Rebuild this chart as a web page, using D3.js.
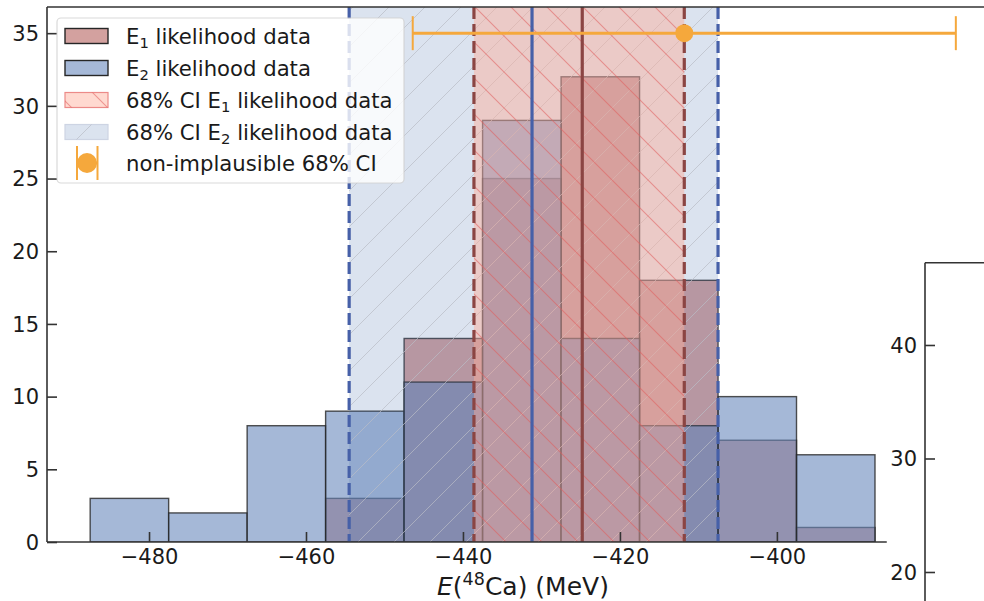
<!DOCTYPE html>
<html>
<head>
<meta charset="utf-8">
<script src="https://cdn.jsdelivr.net/npm/d3@7"></script>
<style>
  html, body { margin: 0; padding: 0; background: #fff; }
  svg { display: block; font-family: "DejaVu Sans", sans-serif; }
</style>
</head>
<body>
<svg id="chart" width="984" height="601"></svg>
<script>
// Histogram bins (MeV) and counts for the two likelihood samples
const binEdges = [-487.5, -477.5, -467.5, -457.5, -447.5, -437.5, -427.5, -417.5, -407.5, -397.5, -387.5];
const e1Counts = [0, 0, 0, 3, 14, 25, 32, 18, 7, 1];
const e2Counts = [3, 2, 8, 9, 11, 29, 14, 8, 10, 6];

// 68% credible intervals and medians
const e1Interval = [-438.6, -411.8];
const e1Median = -424.8;
const e2Interval = [-454.5, -407.5];
const e2Median = -431.2;

// Non-implausible 68% interval (low, central, high) drawn at height 35
const nonImplausible = [-446.4, -411.8, -377.2];
const nonImplausibleLevel = 35;

// Axis ticks
const xTicks = [-480, -460, -440, -420, -400];
const yTicks = [0, 5, 10, 15, 20, 25, 30, 35];
const insetTicks = [20, 30, 40];

const legendLabels = [
  ["E", "1", " likelihood data"],
  ["E", "2", " likelihood data"],
  ["68% CI E", "1", " likelihood data"],
  ["68% CI E", "2", " likelihood data"],
  ["non-implausible 68% CI", "", ""]
];

const svg = d3.select("#chart");
const pL = 47, pT = 7, pB = 542, pR = 999;

const x = d3.scaleLinear().domain([-493, -371.7]).range([pL, pR]);
const y = d3.scaleLinear().domain([0, 36.8]).range([pB, pT]);

const cBlue = "#4c72b0";
const cBlueBar = "#6989bc";
const e2Opacity = 0.6;
const cRed = "#a8443f";
const e1Opacity = 0.5;
const cRedBand = "#ffaa96";
const redBandOpacity = 0.45;
const cBlueLine = "#4660a8";
const cRedLine = "#8b4543";
const cOrange = "#f5a83c";

// hatch patterns
const defs = svg.append("defs");
const hs = 36;
defs.append("pattern").attr("id", "hatchNE").attr("patternUnits", "userSpaceOnUse")
  .attr("width", hs).attr("height", hs)
  .append("path")
  .attr("d", `M0,${hs} L${hs},0 M-9,9 L9,-9 M${hs - 9},${hs + 9} L${hs + 9},${hs - 9}`)
  .attr("stroke", "#b9bcc6").attr("stroke-width", 1).attr("stroke-opacity", 0.7);
defs.append("pattern").attr("id", "hatchNW").attr("patternUnits", "userSpaceOnUse")
  .attr("width", hs).attr("height", hs)
  .append("path")
  .attr("d", `M0,0 L${hs},${hs} M-9,${hs - 9} L9,${hs + 9} M${hs - 9},-9 L${hs + 9},9`)
  .attr("stroke", "#e05a5a").attr("stroke-width", 1.1).attr("stroke-opacity", 0.55);

defs.append("clipPath").attr("id", "plotClip")
  .append("rect").attr("x", pL).attr("y", pT).attr("width", pR - pL).attr("height", pB - pT);

const plot = svg.append("g").attr("clip-path", "url(#plotClip)");

// histogram bars
function bars(counts, color, opacity, cls) {
  const data = counts.map((c, i) => ({ x0: binEdges[i], x1: binEdges[i + 1], c })).filter(d => d.c > 0);
  plot.append("g").attr("class", cls).selectAll("rect").data(data).join("rect")
    .attr("x", d => x(d.x0))
    .attr("y", d => y(d.c))
    .attr("width", d => x(d.x1) - x(d.x0))
    .attr("height", d => y(0) - y(d.c))
    .attr("fill", color).attr("fill-opacity", opacity)
    .attr("stroke", "#262626").attr("stroke-opacity", 0.8).attr("stroke-width", 1.4);
}
bars(e1Counts, cRed, e1Opacity, "e1-bars");
bars(e2Counts, cBlueBar, e2Opacity, "e2-bars");

// credible interval bands, shaded over the histograms
function band(interval, fill, opacity, hatch) {
  const g = plot.append("g");
  g.append("rect")
    .attr("x", x(interval[0])).attr("y", pT)
    .attr("width", x(interval[1]) - x(interval[0])).attr("height", pB - pT)
    .attr("fill", fill).attr("fill-opacity", opacity);
  g.append("rect")
    .attr("x", x(interval[0])).attr("y", pT)
    .attr("width", x(interval[1]) - x(interval[0])).attr("height", pB - pT)
    .attr("fill", `url(#${hatch})`);
}
band(e2Interval, cBlue, 0.2, "hatchNE");
band(e1Interval, cRedBand, redBandOpacity, "hatchNW");

// interval edges and medians
function vline(v, color, dashed) {
  plot.append("line")
    .attr("x1", x(v)).attr("x2", x(v)).attr("y1", pT).attr("y2", pB)
    .attr("stroke", color).attr("stroke-width", 3.2)
    .attr("stroke-dasharray", dashed ? "12,5" : null);
}
e2Interval.forEach(v => vline(v, cBlueLine, true));
e1Interval.forEach(v => vline(v, cRedLine, true));
vline(e2Median, cBlueLine, false);
vline(e1Median, cRedLine, false);

// non-implausible interval error bar
const ey = y(nonImplausibleLevel);
plot.append("line")
  .attr("x1", x(nonImplausible[0])).attr("x2", x(nonImplausible[2]))
  .attr("y1", ey).attr("y2", ey)
  .attr("stroke", cOrange).attr("stroke-width", 3);
[nonImplausible[0], nonImplausible[2]].forEach(v => {
  plot.append("line").attr("x1", x(v)).attr("x2", x(v)).attr("y1", ey - 17).attr("y2", ey + 17)
    .attr("stroke", cOrange).attr("stroke-width", 2);
});
plot.append("circle").attr("cx", x(nonImplausible[1])).attr("cy", ey).attr("r", 9).attr("fill", cOrange);

// axes
const axisColor = "#333";
const xAxis = svg.append("g").attr("transform", `translate(0,${pB})`)
  .call(d3.axisBottom(x).tickValues(xTicks).tickSize(-10).tickPadding(7)
    .tickFormat(d => (d < 0 ? "\u2212" : "") + Math.abs(d)));
const yAxis = svg.append("g").attr("transform", `translate(${pL},0)`)
  .call(d3.axisLeft(y).tickValues(yTicks).tickSize(-10).tickPadding(8)
    .tickFormat(d => d));
[xAxis, yAxis].forEach(a => {
  a.select(".domain").remove();
  a.selectAll(".tick line").attr("stroke", axisColor).attr("stroke-width", 1.6);
  a.selectAll(".tick text").attr("fill", "#1a1a1a").attr("font-size", 21).attr("font-family", "DejaVu Sans");
});
yAxis.selectAll(".tick text").attr("dy", "0.35em");

// spines
svg.append("line").attr("x1", pL).attr("x2", 984).attr("y1", pT).attr("y2", pT)
  .attr("stroke", axisColor).attr("stroke-width", 1.6);
svg.append("line").attr("x1", pL).attr("x2", pL).attr("y1", pT).attr("y2", pB)
  .attr("stroke", axisColor).attr("stroke-width", 1.6);
svg.append("line").attr("x1", pL).attr("x2", x(-386)).attr("y1", pB).attr("y2", pB)
  .attr("stroke", axisColor).attr("stroke-width", 1.6);

// x label
const xl = svg.append("text").attr("x", (pL + pR) / 2).attr("y", 595)
  .attr("text-anchor", "middle").attr("font-size", 25).attr("fill", "#1a1a1a");
xl.append("tspan").attr("font-style", "italic").text("E");
xl.append("tspan").text("(");
xl.append("tspan").attr("font-size", 17.5).attr("dy", -10).text("48");
xl.append("tspan").attr("dy", 10).text("Ca) (MeV)");

// legend
const lg = svg.append("g");
lg.append("rect").attr("x", 57).attr("y", 18).attr("width", 347).attr("height", 165).attr("rx", 4)
  .attr("fill", "#fff").attr("fill-opacity", 0.8)
  .attr("stroke", "#d0d0d0").attr("stroke-opacity", 0.8).attr("stroke-width", 1.2);
const rowY = [36, 68, 100, 132, 163];
const px = 65, pw = 43, ph = 15;
// E1 / E2 histogram handles
lg.append("rect").attr("x", px).attr("y", rowY[0] - ph / 2).attr("width", pw).attr("height", ph)
  .attr("fill", cRed).attr("fill-opacity", e1Opacity).attr("stroke", "#262626").attr("stroke-width", 1.4);
lg.append("rect").attr("x", px).attr("y", rowY[1] - ph / 2).attr("width", pw).attr("height", ph)
  .attr("fill", cBlueBar).attr("fill-opacity", e2Opacity).attr("stroke", "#262626").attr("stroke-width", 1.4);
// interval handles
lg.append("rect").attr("x", px).attr("y", rowY[2] - ph / 2).attr("width", pw).attr("height", ph)
  .attr("fill", cRedBand).attr("fill-opacity", redBandOpacity).attr("stroke", "#ec8a88").attr("stroke-width", 1.2);
lg.append("rect").attr("x", px).attr("y", rowY[2] - ph / 2).attr("width", pw).attr("height", ph)
  .attr("fill", "url(#hatchNW)");
lg.append("rect").attr("x", px).attr("y", rowY[3] - ph / 2).attr("width", pw).attr("height", ph)
  .attr("fill", cBlue).attr("fill-opacity", 0.2).attr("stroke", "#cdd4e3").attr("stroke-width", 1.2);
lg.append("rect").attr("x", px).attr("y", rowY[3] - ph / 2).attr("width", pw).attr("height", ph)
  .attr("fill", "url(#hatchNE)");
// error bar handle
[77, 97.5].forEach(cx => lg.append("line").attr("x1", cx).attr("x2", cx)
  .attr("y1", rowY[4] - 17).attr("y2", rowY[4] + 17).attr("stroke", cOrange).attr("stroke-width", 2));
lg.append("line").attr("x1", 77).attr("x2", 97.5).attr("y1", rowY[4]).attr("y2", rowY[4])
  .attr("stroke", cOrange).attr("stroke-width", 3);
lg.append("circle").attr("cx", 87).attr("cy", rowY[4]).attr("r", 10).attr("fill", cOrange);

legendLabels.forEach((lab, i) => {
  const t = lg.append("text").attr("x", 126).attr("y", rowY[i] + 7.5)
    .attr("font-size", 21.2).attr("fill", "#1a1a1a");
  t.append("tspan").text(lab[0]);
  if (lab[1]) {
    t.append("tspan").attr("font-size", 14.8).attr("dy", 4).text(lab[1]);
    t.append("tspan").attr("dy", -4).text(lab[2]);
  }
});

// neighbouring panel (partially visible)
const insetLeft = 925, insetTop = 262.7;
const yi = d3.scaleLinear().domain([10, 47.25]).range([685.5, insetTop]);
svg.append("rect").attr("x", insetLeft).attr("y", insetTop).attr("width", 984 - insetLeft).attr("height", 601 - insetTop)
  .attr("fill", "#fff");
const ia = svg.append("g").attr("transform", `translate(${insetLeft},0)`)
  .call(d3.axisLeft(yi).tickValues(insetTicks).tickSize(-10).tickPadding(8).tickFormat(d => d));
ia.select(".domain").remove();
ia.selectAll(".tick line").attr("stroke", axisColor).attr("stroke-width", 1.6);
ia.selectAll(".tick text").attr("fill", "#1a1a1a").attr("font-size", 21).attr("font-family", "DejaVu Sans").attr("dy", "0.35em");
svg.append("line").attr("x1", insetLeft).attr("x2", insetLeft).attr("y1", insetTop).attr("y2", 601)
  .attr("stroke", axisColor).attr("stroke-width", 1.6);
svg.append("line").attr("x1", insetLeft).attr("x2", 984).attr("y1", insetTop).attr("y2", insetTop)
  .attr("stroke", axisColor).attr("stroke-width", 1.6);
</script>
</body>
</html>
